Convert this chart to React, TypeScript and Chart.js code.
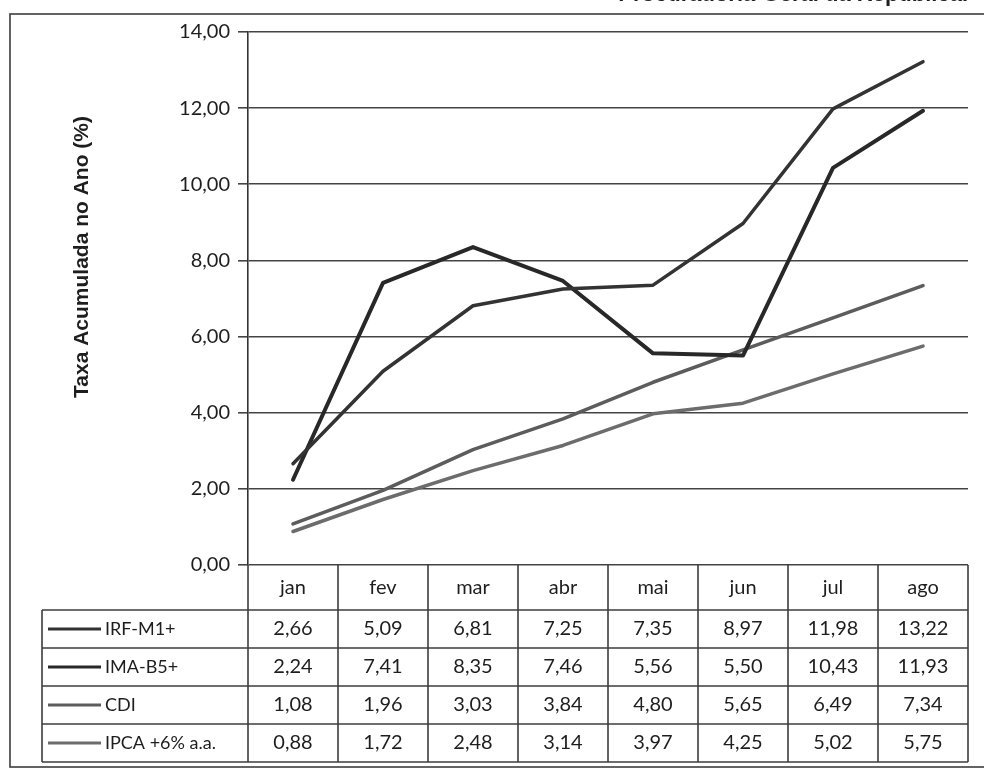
import React, { useEffect, useRef } from "react";
import { Chart, registerables } from "chart.js";

Chart.register(...registerables);

const months = ["jan", "fev", "mar", "abr", "mai", "jun", "jul", "ago"];
const irfM1 = [2.66, 5.09, 6.81, 7.25, 7.35, 8.97, 11.98, 13.22];
const imaB5 = [2.24, 7.41, 8.35, 7.46, 5.56, 5.5, 10.43, 11.93];
const cdi = [1.08, 1.96, 3.03, 3.84, 4.8, 5.65, 6.49, 7.34];
const ipca = [0.88, 1.72, 2.48, 3.14, 3.97, 4.25, 5.02, 5.75];
const seriesNames = ["IRF-M1+", "IMA-B5+", "CDI", "IPCA +6% a.a."];
const yTicks = [0, 2, 4, 6, 8, 10, 12, 14];
const yTitle = "Taxa Acumulada no Ano (%)";
const topTitle = "Procuradoria-Geral da República.";

const fmt = (v: number) => v.toFixed(2).replace(".", ",");

const tablePlugin = {
  id: "tablePlugin",
  afterDraw(chart: any) {
    const ctx = chart.ctx as CanvasRenderingContext2D;
    const xs = chart.scales.x;
    const area = chart.chartArea;
    const step = xs.getPixelForValue(1) - xs.getPixelForValue(0);
    const left = area.left;
    const right = area.left + step * months.length;
    const headerTop = area.bottom;
    const headerBottom = 610;
    const rowH = 38;
    const tableBottom = headerBottom + rowH * 4;
    const legendLeft = 42;
    ctx.save();
    ctx.strokeStyle = "#3c3c3c";
    ctx.lineWidth = 1.6;
    // outer border
    ctx.strokeRect(10, 14, 1000, 753);
    // vertical lines
    for (let i = 0; i <= months.length; i++) {
      const x = left + step * i;
      ctx.beginPath();
      ctx.moveTo(x, headerTop);
      ctx.lineTo(x, tableBottom);
      ctx.stroke();
    }
    ctx.beginPath();
    ctx.moveTo(legendLeft, headerBottom);
    ctx.lineTo(legendLeft, tableBottom);
    ctx.stroke();
    // horizontal lines
    for (let r = 0; r <= 4; r++) {
      const y = headerBottom + rowH * r;
      ctx.beginPath();
      ctx.moveTo(legendLeft, y);
      ctx.lineTo(right, y);
      ctx.stroke();
    }
    ctx.fillStyle = "#1e1e1e";
    ctx.textBaseline = "middle";
    ctx.textAlign = "center";
    ctx.font = "20px Lato";
    months.forEach((m, i) => {
      ctx.fillText(m, xs.getPixelForValue(i), (headerTop + headerBottom) / 2);
    });
    chart.data.datasets.forEach((ds: any, r: number) => {
      const cy = headerBottom + rowH * r + rowH / 2;
      ctx.strokeStyle = ds.borderColor;
      ctx.lineWidth = 3;
      ctx.beginPath();
      ctx.moveTo(48, cy);
      ctx.lineTo(101, cy);
      ctx.stroke();
      ctx.textAlign = "left";
      ctx.font = "18px Lato";
      ctx.fillText(seriesNames[r], 105, cy);
      ctx.textAlign = "center";
      ctx.font = "20px Lato";
      ds.data.forEach((v: number, i: number) => {
        ctx.fillText(fmt(v), xs.getPixelForValue(i), cy);
      });
    });
    // y title
    ctx.save();
    ctx.translate(82, 257);
    ctx.rotate(-Math.PI / 2);
    ctx.font = "bold 21px 'Liberation Sans'";
    ctx.textAlign = "center";
    ctx.fillText(yTitle, 0, 0);
    ctx.restore();
    // clipped top title
    ctx.font = "bold 22px 'Liberation Sans'";
    ctx.textAlign = "right";
    ctx.textBaseline = "alphabetic";
    ctx.fillText(topTitle, 968, 1);
    ctx.restore();
  },
};

export default function App() {
  const ref = useRef<HTMLCanvasElement>(null);
  useEffect(() => {
    if (!ref.current) return;
    const chart = new Chart(ref.current, {
      type: "line",
      data: {
        labels: months,
        datasets: [
          { label: seriesNames[0], data: irfM1, borderColor: "#333333", borderWidth: 3.5 },
          { label: seriesNames[1], data: imaB5, borderColor: "#282828", borderWidth: 4 },
          { label: seriesNames[2], data: cdi, borderColor: "#5c5c5c", borderWidth: 3.5 },
          { label: seriesNames[3], data: ipca, borderColor: "#6c6c6c", borderWidth: 3.5 },
        ],
      },
      options: {
        animation: false,
        responsive: false,
        layout: { padding: { top: 32, right: 16, left: 0, bottom: 0 } },
        elements: { point: { radius: 0 }, line: { tension: 0, borderJoinStyle: "round", borderCapStyle: "round" } },
        plugins: { legend: { display: false }, tooltip: { enabled: false } },
        scales: {
          x: {
            offset: true,
            grid: { display: false },
            ticks: { display: false },
            border: { display: false },
            afterFit: (s: any) => { s.height = 779 - 565; },
          },
          y: {
            min: 0,
            max: 14,
            afterBuildTicks: (s: any) => { s.ticks = yTicks.map((v) => ({ value: v })); },
            ticks: {
              callback: (v: any) => fmt(Number(v)),
              font: { family: "Lato", size: 20 },
              color: "#1e1e1e",
              padding: 8,
            },
            grid: { color: "#444", lineWidth: 1.6, tickLength: 10 },
            border: { color: "#333", width: 1.6 },
            afterFit: (s: any) => { s.width = 248; },
          },
        },
      },
      plugins: [tablePlugin],
    });
    return () => chart.destroy();
  }, []);
  return (
    <div style={{ position: "absolute", left: 0, top: 0, width: 984, height: 779, background: "#fff" }}>
      <canvas ref={ref} width={984} height={779} style={{ display: "block" }} />
    </div>
  );
}
